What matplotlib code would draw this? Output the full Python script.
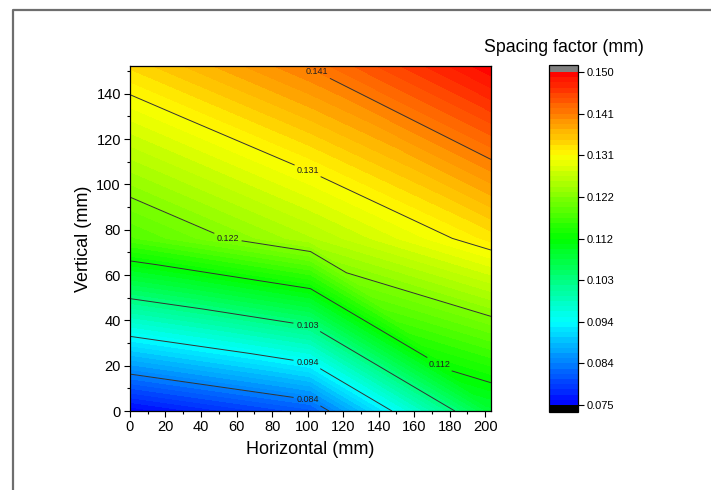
import matplotlib
matplotlib.use("Agg")
import matplotlib.pyplot as plt
import matplotlib.tri as mtri
import numpy as np
from matplotlib.colors import LinearSegmentedColormap
from matplotlib.lines import Line2D
from matplotlib.ticker import MultipleLocator

plt.rcParams['font.family'] = ['Liberation Sans', 'DejaVu Sans']

# measurement grid (mm) and spacing factor values (mm), rows = vertical positions
horizontal = [0.0, 101.6, 203.2]
vertical = [0.0, 76.2, 152.4]
spacing = [
    [0.0752, 0.0816, 0.1085],
    [0.1181, 0.1252, 0.1329],
    [0.1339, 0.1409, 0.1498],
]

# colour scale
z_min, z_max, n_fill = 0.075, 0.150, 64
major_ticks = [0.075, 0.084375, 0.09375, 0.103125, 0.1125, 0.121875, 0.13125, 0.140625, 0.150]
major_labels = ["0.075", "0.084", "0.094", "0.103", "0.112", "0.122", "0.131", "0.141", "0.150"]

# contour lines and where their labels sit
line_levels = major_ticks[1:-1]
line_labels = major_labels[1:-1]
label_spots = [(100, 4.7), (100, 21.5), (100, 38.2), (174, 20.3), (55, 76.5), (100, 106), (105, 149)]

# build the point list and the triangles (diagonal from top-left to bottom-right)
xs, ys, zs = [], [], []
for j, yv in enumerate(vertical):
    for i, xv in enumerate(horizontal):
        xs.append(xv)
        ys.append(yv)
        zs.append(spacing[j][i])
nx = len(horizontal)
triangles = []
for j in range(len(vertical) - 1):
    for i in range(nx - 1):
        bl, br = j * nx + i, j * nx + i + 1
        tl, tr = (j + 1) * nx + i, (j + 1) * nx + i + 1
        triangles.append([bl, br, tl])
        triangles.append([br, tr, tl])
tri = mtri.Triangulation(xs, ys, triangles)

cmap = LinearSegmentedColormap.from_list(
    "origin_rainbow", ["#0000ff", "#00ffff", "#00ff00", "#ffff00", "#ff0000"])
cmap.set_under("black")
cmap.set_over("#808080")

fig = plt.figure(figsize=(7.11, 4.90), dpi=100)
ax = fig.add_axes([0.1828, 0.1612, 0.5077, 0.7047])

fill_levels = np.linspace(z_min, z_max, n_fill + 1)
cf = ax.tricontourf(tri, zs, levels=fill_levels, cmap=cmap, extend="both")
cs = ax.tricontour(tri, zs, levels=line_levels, colors="#333333", linewidths=0.7)
texts = ax.clabel(cs, fmt=dict(zip(cs.levels, line_labels)), manual=label_spots,
                  fontsize=6.5, inline=True, inline_spacing=3, colors="#222222")
for t in texts:
    t.set_rotation(0)

ax.set_xlim(0, 203.2)
ax.set_ylim(0, 152.4)
ax.xaxis.set_major_locator(MultipleLocator(20))
ax.xaxis.set_minor_locator(MultipleLocator(10))
ax.yaxis.set_major_locator(MultipleLocator(20))
ax.yaxis.set_minor_locator(MultipleLocator(10))
ax.tick_params(which="major", direction="out", length=4.5, width=0.8, labelsize=10.5, pad=2)
ax.tick_params(which="minor", direction="out", length=2.5, width=0.8)
ax.set_xlabel("Horizontal (mm)", fontsize=13, labelpad=5)
ax.set_ylabel("Vertical (mm)", fontsize=13, labelpad=3)
for sp in ax.spines.values():
    sp.set_linewidth(0.9)

# colour bar with black / grey end boxes
cax = fig.add_axes([0.7722, 0.1592, 0.0408, 0.708])
cb = fig.colorbar(cf, cax=cax, extend="both", extendrect=True, extendfrac=0.021,
                  ticks=major_ticks, drawedges=False)
cb.set_ticklabels(major_labels)
cb.ax.tick_params(labelsize=8, length=4, width=0.8, direction="out", pad=2)
cb.ax.minorticks_off()
cb.outline.set_linewidth(0.9)
fig.text(0.7925, 0.903, "Spacing factor (mm)", ha="center", va="center", fontsize=12.8)

# page frame seen at the top-left
fig.add_artist(Line2D([13 / 711, 13 / 711, 1.0], [0.0, 1 - 10 / 490, 1 - 10 / 490],
                      transform=fig.transFigure, color="#6e6e6e", linewidth=1.6))

fig.savefig("out.png", dpi=100)
